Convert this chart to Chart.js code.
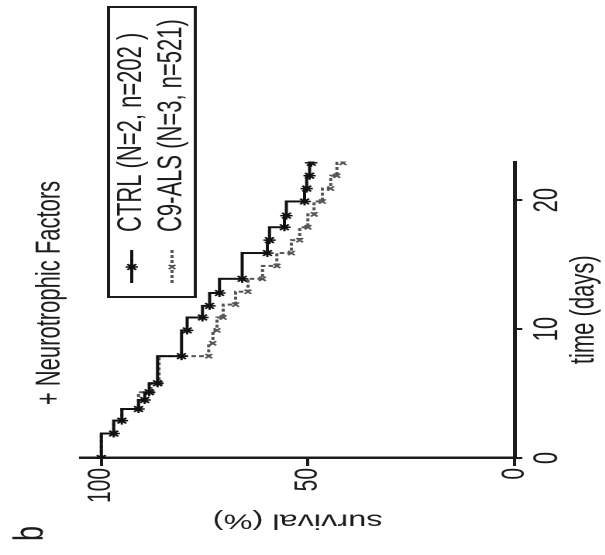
<!DOCTYPE html>
<html>
<head>
<meta charset="utf-8">
<script src="https://cdn.jsdelivr.net/npm/chart.js@4.4.1/dist/chart.umd.min.js"></script>
<style>
  html, body { margin: 0; padding: 0; background: #fff; overflow: hidden; }
  #wrap { position: relative; width: 605px; height: 555px; overflow: hidden; }
  /* the figure is printed turned a quarter turn left and stretched along the survival axis */
  #chart { position: absolute; left: 0; top: 0; transform-origin: 0 0; transform: matrix(0, -1, 1.55, 0, 0, 555); }
</style>
</head>
<body>
<div id="wrap"><canvas id="chart" width="555" height="390"></canvas></div>
<script>
const timeTicks = [0, 10, 20];
const survivalTicks = [0, 50, 100];
const seriesLabels = ["CTRL (N=2, n=202 )", "C9-ALS (N=3, n=521)"];

const ctrlDays = [0, 1.9, 2.9, 3.8, 4.5, 5.1, 5.8, 7.9, 9.9, 10.9, 11.8, 12.8, 13.9, 15.9, 16.9, 17.9, 18.8, 19.9, 20.9, 21.9, 22.9];
const ctrlSurvival = [100, 97, 95, 91, 89.5, 88.4, 86.4, 80.6, 79.2, 75.5, 73.8, 71.4, 65.9, 59.8, 59.3, 55.7, 55.2, 50.8, 50.3, 49.6, 49.2];

const c9Days = [0, 1.9, 2.9, 3.8, 5.1, 5.8, 7.9, 8.9, 9.9, 10.9, 11.9, 12.9, 13.9, 14.9, 15.9, 16.9, 17.9, 18.9, 19.9, 20.9, 21.9, 22.9];
const c9Survival = [100, 97, 95, 91, 88, 86, 74, 73, 72, 70.5, 67.5, 64.5, 61, 57.5, 54, 52, 50, 48.5, 46.5, 44.5, 43, 41.5];

const INK = "#1c1c1c";
const FONT = "'Liberation Sans', Arial, sans-serif";

Chart.defaults.font.family = FONT;
Chart.defaults.color = INK;

function toPoints(days, surv) {
  return days.map((d, i) => ({ x: d, y: surv[i] }));
}

// legend box drawn on the canvas, at the upper right like the original
const boxLegend = {
  id: "boxLegend",
  afterDatasetsDraw(chart) {
    const ctx = chart.ctx;
    const left = 258, top = 70, w = 290, h = 56, rowGap = 26;
    ctx.save();
    ctx.strokeStyle = INK;
    ctx.lineWidth = 2;
    ctx.strokeRect(left, top, w, h);
    chart.data.datasets.forEach((ds, i) => {
      const y = top + 15 + i * rowGap;
      ctx.strokeStyle = ds.borderColor;
      ctx.lineWidth = ds.borderWidth;
      ctx.setLineDash(ds.borderDash || []);
      ctx.beginPath();
      ctx.moveTo(left + 14, y);
      ctx.lineTo(left + 47, y);
      ctx.stroke();
      ctx.setLineDash([]);
      ctx.fillStyle = ds.pointBackgroundColor;
      ctx.strokeStyle = ds.pointBorderColor;
      ctx.lineWidth = ds.pointBorderWidth;
      Chart.helpers.drawPoint(ctx, { pointStyle: ds.pointStyle, radius: ds.pointRadius, rotation: 0, borderWidth: ds.pointBorderWidth }, left + 30, y);
      ctx.fillStyle = INK;
      ctx.font = "22px " + FONT;
      ctx.textBaseline = "middle";
      ctx.textAlign = "left";
      ctx.fillText(ds.label, left + 65, y);
    });
    // panel letter
    ctx.font = "27px " + FONT;
    ctx.fillText("b", 14, 20);
    ctx.restore();
  }
};

new Chart(document.getElementById("chart"), {
  type: "line",
  data: {
    datasets: [
      {
        label: seriesLabels[0],
        data: toPoints(ctrlDays, ctrlSurvival),
        stepped: true,
        borderColor: "#111",
        borderWidth: 2,
        pointStyle: "star",
        pointRadius: 4,
        pointBorderWidth: 1.5,
        pointBorderColor: "#111",
        pointBackgroundColor: "#111",
      },
      {
        label: seriesLabels[1],
        data: toPoints(c9Days, c9Survival),
        stepped: true,
        borderColor: "#555",
        borderWidth: 2,
        borderDash: [3, 2],
        pointStyle: "crossRot",
        pointRadius: 3,
        pointBorderWidth: 1.5,
        pointBorderColor: "#555",
        pointBackgroundColor: "#555",
      },
    ],
  },
  options: {
    responsive: false,
    animation: false,
    devicePixelRatio: 2,
    layout: { padding: { left: 0, right: 31, top: 0, bottom: 0 } },
    plugins: {
      legend: { display: false },
      tooltip: { enabled: false },
      title: {
        display: true,
        text: "+ Neurotrophic Factors",
        color: INK,
        font: { size: 22, weight: "normal" },
        padding: { top: 19, bottom: 6.6 },
      },
    },
    scales: {
      x: {
        type: "linear",
        min: 0,
        max: 23,
        afterBuildTicks: (s) => { s.ticks = timeTicks.map((v) => ({ value: v })); },
        afterFit: (s) => { s.height = 58; },
        ticks: { font: { size: 22 }, color: INK, padding: 3, maxRotation: 0 },
        grid: { drawOnChartArea: false, tickLength: 5, tickWidth: 2, tickColor: INK },
        border: { color: INK, width: 2.5 },
        title: { display: true, text: "time (days)", color: INK, font: { size: 22 }, padding: { top: 0, bottom: 0 } },
      },
      y: {
        min: 0,
        max: 105,
        afterBuildTicks: (s) => { s.ticks = survivalTicks.map((v) => ({ value: v })); },
        afterFit: (s) => { s.width = 97; },
        ticks: { font: { size: 21 }, color: INK, padding: 2 },
        grid: { drawOnChartArea: false, tickLength: 8, tickWidth: 2, tickColor: INK },
        border: { color: INK, width: 2.5 },
        title: { display: true, text: "survival (%)", color: INK, font: { size: 21 }, padding: { top: 22, bottom: 0 } },
      },
      spacer: {
        position: "right",
        display: true,
        afterFit: (s) => { s.width = 130.5; },
        ticks: { display: false },
        grid: { display: false },
        border: { display: false },
      },
    },
  },
  plugins: [boxLegend],
});
</script>
</body>
</html>
